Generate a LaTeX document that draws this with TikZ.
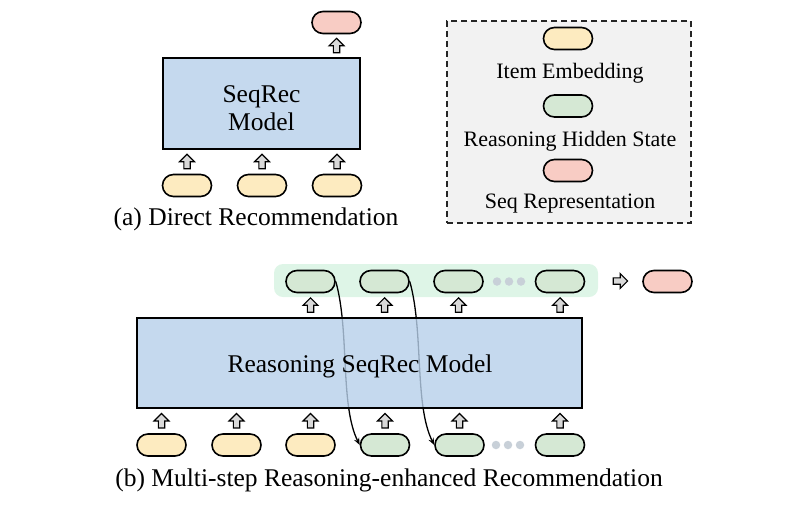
\documentclass[tikz,border=0pt]{standalone}
\usepackage{fontspec}
\setmainfont{Liberation Serif}
\usetikzlibrary{shapes.misc,arrows.meta,calc}
\definecolor{boxblue}{RGB}{183,208,234}
\definecolor{pillyellow}{RGB}{253,235,192}
\definecolor{pillgreen}{RGB}{213,232,212}
\definecolor{pillred}{RGB}{248,204,196}
\definecolor{bandgreen}{RGB}{222,245,231}
\definecolor{leggray}{RGB}{242,242,242}
\definecolor{dotgray}{RGB}{200,208,216}
\definecolor{arrgray}{RGB}{217,217,217}
\tikzset{
 pill/.style={rounded rectangle, draw=black, line width=1.6pt, minimum width=49pt, minimum height=22pt, inner sep=0pt},
 ypill/.style={pill, fill=pillyellow},
 gpill/.style={pill, fill=pillgreen},
 rpill/.style={pill, fill=pillred},
 modelbox/.style={draw=black, line width=1.5pt, fill=boxblue, fill opacity=0.8, draw opacity=1, text opacity=1, inner sep=0pt},
 bigtext/.style={font=\fontsize{25.5}{28}\selectfont},
 legtext/.style={font=\fontsize{22}{26}\selectfont},
 dotc/.style={circle, fill=dotgray, minimum size=8.5pt, inner sep=0pt},
 link/.style={draw=black, line width=1.3pt, -{Stealth[length=7pt,width=5.5pt]}},
 legbox/.style={draw=black!85, fill=leggray, line width=1.1pt, dash pattern=on 6pt off 4pt, inner sep=0pt},
 bandbox/.style={fill=bandgreen, rounded corners=9pt, inner sep=0pt},
 uparr/.pic={\draw[fill=arrgray, line width=1.1pt, line join=miter] (-3.2pt,-7pt) -- (3.2pt,-7pt) -- (3.2pt,0pt) -- (7.5pt,0pt) -- (0pt,7.5pt) -- (-7.5pt,0pt) -- (-3.2pt,0pt) -- cycle;}
}
\begin{document}
\begin{tikzpicture}[x=1pt,y=-1pt]
\useasboundingbox (0,0) rectangle (801,504);
% ---------- (a) ----------
\node[modelbox, minimum width=197pt, minimum height=91pt] (m1) at (261.5,103.5) {};
\node[bigtext, align=center] (m1t) at (261.5,108) {SeqRec\\Model};
\node[rpill] (r1) at (336.5,22.5) {};
\node[ypill] (y1) at (187,185.5) {};
\node[ypill] (y2) at (262,185.5) {};
\node[ypill] (y3) at (337,185.5) {};
\pic at ($(m1.north -| r1)!0.5!(r1.south)$) {uparr};
\foreach \p in {y1,y2,y3}{
  \pic at ($(\p.north)!0.5!(\p.north |- m1.south)$) {uparr};
}
\node[bigtext, anchor=base] (capa) at (256,225) {(a) Direct Recommendation};
% ---------- legend ----------
\node[legbox, minimum width=244pt, minimum height=202pt] (leg) at (569,122) {};
\node[ypill] (l1) at (568,38.5) {};
\node[legtext, anchor=base] (l1t) at (570,78) {Item Embedding};
\node[gpill] (l2) at (568,106) {};
\node[legtext, anchor=base] (l2t) at (570,146) {Reasoning Hidden State};
\node[rpill] (l3) at (568,170.5) {};
\node[legtext, anchor=base] (l3t) at (570,208) {Seq Representation};
% ---------- (b) ----------
\node[bandbox, minimum width=324pt, minimum height=33pt] (band) at (436,280.5) {};
\node[gpill] (t1) at (310.5,281.5) {};
\node[gpill] (t2) at (384.5,281.5) {};
\node[gpill] (t3) at (458.5,281.5) {};
\node[gpill] (t4) at (560,281.5) {};
\node[dotc] (td1) at (497,281.5) {};
\node[dotc] (td2) at (509,281.5) {};
\node[dotc] (td3) at (521,281.5) {};
\node[rpill] (r2) at (667.5,281.5) {};
\pic[rotate=-90] at ($(band.east)!0.5!(r2.west)$) {uparr};
\node[ypill] (b1) at (161.5,445) {};
\node[ypill] (b2) at (236.5,445) {};
\node[ypill] (b3) at (310.5,445) {};
\node[gpill] (b4) at (385,445) {};
\node[gpill] (b5) at (459.5,445) {};
\node[gpill] (b6) at (560,445) {};
\node[dotc] (bd1) at (496,445) {};
\node[dotc] (bd2) at (508,445) {};
\node[dotc] (bd3) at (520,445) {};
\draw[link] (t1.east) .. controls ($(t1.east)+(14,50)$) and ($(b4.west)+(-20,-40)$) .. (b4.west);
\draw[link] (t2.east) .. controls ($(t2.east)+(14,50)$) and ($(b5.west)+(-20,-40)$) .. (b5.west);
\node[modelbox, minimum width=445pt, minimum height=90pt] (m2) at (359.5,363) {};
\node[bigtext, anchor=base] (m2t) at (360,372.5) {Reasoning SeqRec Model};
\foreach \p in {t1,t2,t3,t4}{
  \pic at ($(\p.south)!0.5!(\p.south |- m2.north)$) {uparr};
}
\foreach \p in {b1,b2,b3,b4,b5,b6}{
  \pic at ($(\p.north)!0.5!(\p.north |- m2.south)$) {uparr};
}
\node[bigtext, anchor=base] (capb) at (389,486) {(b) Multi-step Reasoning-enhanced Recommendation};
\end{tikzpicture}
\end{document}
